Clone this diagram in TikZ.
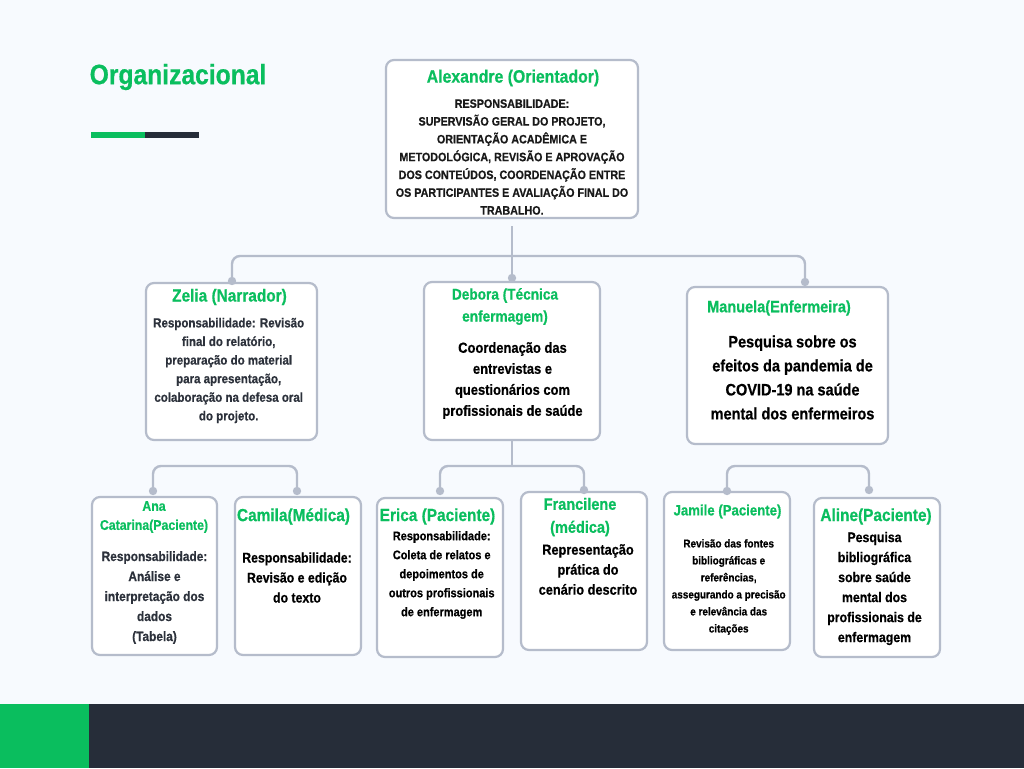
\documentclass[tikz,border=0pt]{standalone}
\usepackage{fontspec}
\newfontfamily\rc{Liberation Sans}[UprightFont={* Bold}, FakeStretch=0.88, FakeBold=0.6]
\usetikzlibrary{calc}
\definecolor{bgc}{HTML}{F7FAFE}
\definecolor{grn}{HTML}{0ABE5E}
\definecolor{drk}{HTML}{262D39}
\definecolor{linec}{HTML}{B5BCCB}
\definecolor{bodyg}{HTML}{2C313B}
\newcommand{\fz}[2]{\rc\fontsize{#1}{#2}\selectfont}
\tikzset{
  box/.style={draw=linec, line width=2.2pt, fill=white, rounded corners=8pt, inner sep=0pt},
  conn/.style={draw=linec, line width=2.4pt, rounded corners=8pt},
  dotc/.style={fill=linec},
  ttl/.style={text=grn, align=center, inner sep=0pt},
  bdy/.style={text=black, align=center, inner sep=0pt},
}
\begin{document}
\begin{tikzpicture}[x=1pt,y=-1pt]
\useasboundingbox (0,0) rectangle (1024,768);
\fill[bgc] (0,0) rectangle (1024,768);
\fill[grn] (0,704) rectangle (89,768);
\fill[drk] (89,704) rectangle (1024,768);
% title
\node[text=grn, inner sep=0pt, anchor=west, font={\fz{28}{32}}] (title) at (89.5,77) {Organizacional};
\fill[grn] (91,132) rectangle (145,138);
\fill[drk] (145,132) rectangle (199,138);

% boxes
\node[box, minimum width=252, minimum height=158] (alex) at (512,139) {};
\node[box, minimum width=171, minimum height=157] (zel) at (231.5,361.5) {};
\node[box, minimum width=176, minimum height=158] (deb) at (512,361) {};
\node[box, minimum width=201, minimum height=157] (man) at (787.5,365.5) {};
\node[box, minimum width=125, minimum height=158] (ana) at (154.5,576) {};
\node[box, minimum width=126, minimum height=158] (cam) at (298,576) {};
\node[box, minimum width=126, minimum height=159] (eri) at (440,577.5) {};
\node[box, minimum width=126, minimum height=158] (fra) at (584,571) {};
\node[box, minimum width=126, minimum height=158] (jam) at (727,571) {};
\node[box, minimum width=126, minimum height=159] (ali) at (877,577.5) {};

% connector coordinates
\coordinate (h1) at (512,256);
\coordinate (h2) at (512,466);
\coordinate (dz) at (232,281);
\coordinate (dd) at (512,278);
\coordinate (dm) at (805,282);
\coordinate (da) at (153,491);
\coordinate (dc) at (297,491);
\coordinate (de) at (440,491);
\coordinate (df) at (584,490);
\coordinate (dj) at (727,491);
\coordinate (dl) at (869,490);

% level 1
\draw[conn] ($(alex.south)+(0,7)$) -- (dd);
\draw[conn] (dz) -- (dz |- h1) -- (dm |- h1) -- (dm);
% level 2
\draw[conn] ($(zel.south)+(-6.5,-2)$) -- ($(zel.south)+(-6.5,0)$ |- h2);
\draw[conn] (da) -- (da |- h2) -- (dc |- h2) -- (dc);
\draw[conn] ($(deb.south)+(0,-2)$) -- (deb.south |- h2);
\draw[conn] (de) -- (de |- h2) -- (df |- h2) -- (df);
\draw[conn] ($(man.south)+(11,-2)$) -- ($(man.south)+(11,0)$ |- h2);
\draw[conn] (dj) -- (dj |- h2) -- (dl |- h2) -- (dl);
\foreach \d in {dz,dd,dm,da,dc,de,df,dj,dl} \fill[dotc] (\d) circle (4.2);

% texts
\node[ttl, font={\fz{18}{22}}] (alext) at (513,78) {Alexandre (Orientador)};
\node[bdy, text=black!90, font={\fz{12.2}{17.8}}] (alexb) at (512,157) {RESPONSABILIDADE:\\
SUPERVISÃO GERAL DO PROJETO,\\ORIENTAÇÃO ACADÊMICA E\\METODOLÓGICA, REVISÃO E APROVAÇÃO\\DOS CONTEÚDOS, COORDENAÇÃO ENTRE\\OS PARTICIPANTES E AVALIAÇÃO FINAL DO\\TRABALHO.};

\node[ttl, font={\fz{17.5}{20}}] (zelt) at (229.5,297) {Zelia (Narrador)};
\node[bdy, text=bodyg, font={\fz{13.1}{18.6}}] (zelb) at (228.7,370.5) {Responsabilidade: Revisão\\final do relatório,\\preparação do material\\para apresentação,\\colaboração na defesa oral\\do projeto.};

\node[ttl, font={\fz{15.5}{22}}] (debt) at (505,306.5) {Debora (Técnica\\enfermagem)};
\node[bdy, font={\fz{14.7}{21}}] (debb) at (512.5,380.5) {Coordenação das\\entrevistas e\\questionários com\\profissionais de saúde};

\node[ttl, font={\fz{16.5}{20}}] (mant) at (779,308) {Manuela(Enfermeira)};
\node[bdy, font={\fz{16.5}{24}}] (manb) at (792.5,377.5) {Pesquisa sobre os\\efeitos da pandemia de\\COVID-19 na saúde\\mental dos enfermeiros};

\node[ttl, font={\fz{14}{19}}] (anat) at (154,517) {Ana\\Catarina(Paciente)};
\node[bdy, text=bodyg, font={\fz{13.5}{20}}] (anab) at (154.5,597.5) {Responsabilidade:\\Análise e\\interpretação dos\\dados\\(Tabela)};

\node[ttl, font={\fz{17.5}{20}}] (camt) at (293.5,516.5) {Camila(Médica)};
\node[bdy, font={\fz{14}{20}}] (camb) at (297,577.5) {Responsabilidade:\\Revisão e edição\\do texto};

\node[ttl, font={\fz{17.5}{20}}] (erit) at (437.5,516.5) {Erica (Paciente)};
\node[bdy, font={\fz{12.5}{19}}] (erib) at (441.7,575) {Responsabilidade:\\Coleta de relatos e\\depoimentos de\\outros profissionais\\de enfermagem};

\node[ttl, font={\fz{16.5}{23}}] (frat) at (580,517) {Francilene\\(médica)};
\node[bdy, font={\fz{14.5}{20}}] (frab) at (588,569.5) {Representação\\prática do\\cenário descrito};

\node[ttl, font={\fz{15}{18}}] (jamt) at (727.5,511.5) {Jamile (Paciente)};
\node[bdy, font={\fz{11.3}{17}}] (jamb) at (728.7,587) {Revisão das fontes\\bibliográficas e\\referências,\\assegurando a precisão\\e relevância das\\citações};

\node[ttl, font={\fz{17.5}{20}}] (alit) at (876,516.5) {Aline(Paciente)};
\node[bdy, font={\fz{14}{20}}] (alib) at (874.5,588.5) {Pesquisa\\bibliográfica\\sobre saúde\\mental dos\\profissionais de\\enfermagem};
\end{tikzpicture}
\end{document}
